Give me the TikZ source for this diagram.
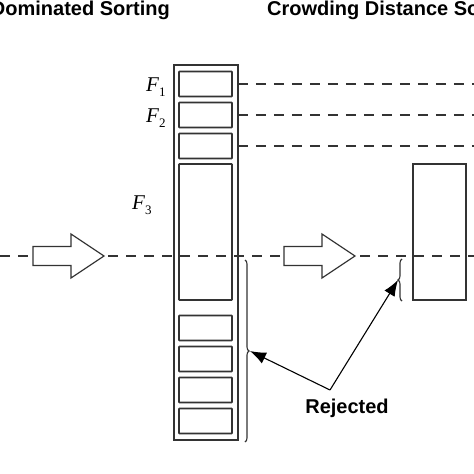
\documentclass[tikz,border=0pt]{standalone}
\usepackage{fontspec}
\setmainfont{Liberation Serif}
\setsansfont{Liberation Sans}
\usetikzlibrary{positioning}
\usetikzlibrary{arrows.meta}
\usetikzlibrary{decorations.pathreplacing}
\newcommand{\frontname}[1]{\textit{F}\raisebox{-0.28em}{\fontsize{13}{13}\selectfont #1}}
\tikzset{
    column/.style={draw=black!80, line width=1.2pt},
    front/.style={draw=black!80, line width=1.7pt, rounded corners=0.6pt, inner sep=0pt, minimum width=53pt},
    guide/.style={draw=black!80, line width=1.2pt, dash pattern=on 10pt off 8pt},
    fatarrow/.style={draw=black!80, fill=white, line width=1.2pt},
    rejbrace/.style={draw=black!80, line width=1.1pt, decorate, decoration={brace,amplitude=4pt}},
    pointer/.style={draw=black, line width=1.1pt, -{Latex[length=16pt,width=12pt]}},
    title/.style={font=\sffamily\bfseries\fontsize{20}{22}\selectfont, inner sep=0pt},
    flabel/.style={font=\fontsize{21}{24}\selectfont, inner sep=0pt},
    hollowarrow/.pic={
        \draw[fatarrow] (0,-9.5) -- (38,-9.5) -- (38,-22) -- (71,0) -- (38,22) -- (38,9.5) -- (0,9.5) -- cycle;
    },
}

\begin{document}
\begin{tikzpicture}[x=1pt, y=-1pt]
	\useasboundingbox (0,0) rectangle (474,474);
	\clip (0,0) rectangle (474,474);
	% titles
	\node[title, anchor=base east] (ndsort) at (170,15) {Dominated Sorting};
	\node[title, anchor=base west] (cdsort) at (267,15) {Crowding Distance Sorting};
	% sorted column
	\draw[column] (174,65) rectangle (238,440);
	\foreach \y [count=\i] in {84,115,146}
		\node[front, minimum height=25pt] (f\i) at (205.5,\y) {};
	\node[front, minimum height=136pt] (f4) at (205.5,232) {};
	\foreach \y [count=\i] in {328,359,390,421}
		\node[front, minimum height=25pt] (r\i) at (205.5,\y) {};
	\foreach \i in {1,2,3}
		\draw[guide] ([xshift=5pt]f\i.east) -- ++(240,0);
	% main line
	\draw[guide] (0,256) -- (474,256);
	\pic at (33,256) {hollowarrow};
	\pic at (284,256) {hollowarrow};
	% front labels
	\node[flabel, anchor=base west] (l1) at (146,91) {\frontname{1}};
	\node[flabel, anchor=base west] (l2) at (146,122) {\frontname{2}};
	\node[flabel, anchor=base west] (l3) at (132,209) {\frontname{3}};
	% crowding distance part of F3
	\node[front, line width=1.3pt, rounded corners=0pt, minimum height=136pt] (sel) at (439.5,232) {};
	% braces
	\draw[rejbrace] (245,260) -- (245,442);
	\draw[rejbrace] (402,301) -- (402,259);
	\coordinate (lb) at (250,351);
	\coordinate (rb) at (398,280);
	% rejected
	\node[title] (rej) at (347,408) {Rejected};
	\coordinate (rj) at (330,390);
	\draw[pointer] (rj) -- (lb);
	\draw[pointer] (rj) -- (rb);
\end{tikzpicture}
\end{document}
